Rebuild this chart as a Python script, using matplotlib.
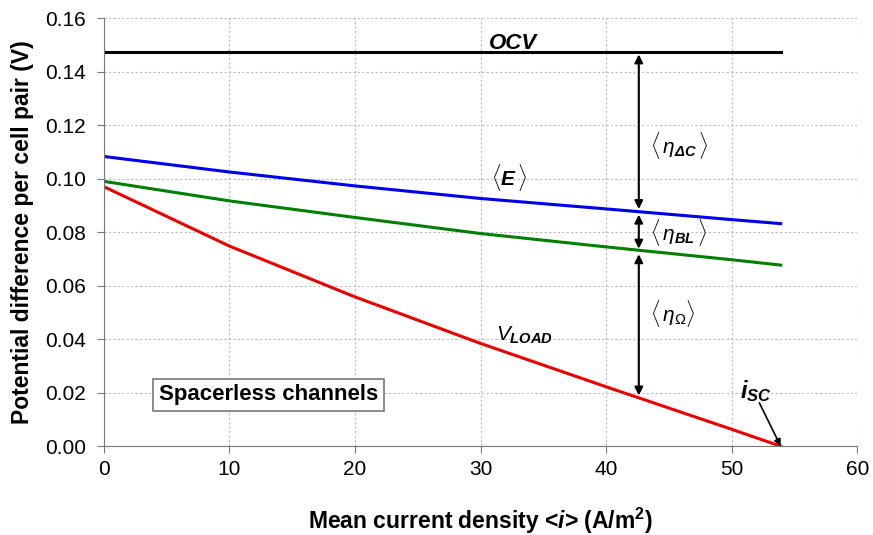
import numpy as np
import matplotlib.pyplot as plt

plt.rcParams['font.family'] = ['Liberation Sans', 'DejaVu Sans']
plt.rcParams['mathtext.fontset'] = 'custom'
plt.rcParams['mathtext.it'] = 'Liberation Sans:italic'
plt.rcParams['mathtext.bf'] = 'Liberation Sans:bold'
plt.rcParams['mathtext.bfit'] = 'Liberation Sans:italic:bold'
plt.rcParams['mathtext.rm'] = 'Liberation Sans'

# Curvas de tensión por par de celdas frente a densidad de corriente
i_mean = [0, 10, 20, 30, 40, 50, 53.9]
ocv = [0.1475, 0.1475, 0.1475, 0.1475, 0.1475, 0.1475, 0.1475]
e_mean = [0.1083, 0.1025, 0.0973, 0.0926, 0.0887, 0.0847, 0.0832]
v_bl = [0.0990, 0.0917, 0.0855, 0.0795, 0.0745, 0.0697, 0.0677]
v_load = [0.0970, 0.0748, 0.0558, 0.0384, 0.0222, 0.0063, 0.0]

# Posición de las flechas de sobretensiones
i_arrow = 42.6
ocv_a, e_a, bl_a, load_a = 0.1475, 0.0876, 0.0728, 0.0179

fig = plt.figure(figsize=(8.73, 5.35), dpi=100)
ax = fig.add_axes([0.119, 0.166, 0.863, 0.800])

ax.plot(i_mean, ocv, color='black', lw=2.2)
ax.plot(i_mean, e_mean, color='#0000ee', lw=2.2)
ax.plot(i_mean, v_bl, color='#008000', lw=2.2)
ax.plot(i_mean, v_load, color='#ee0000', lw=2.2)

arr = dict(arrowstyle='<|-|>', color='black', lw=1.5, mutation_scale=12, shrinkA=2, shrinkB=2)
ax.annotate('', xy=(i_arrow, ocv_a), xytext=(i_arrow, e_a), arrowprops=arr)
ax.annotate('', xy=(i_arrow, e_a), xytext=(i_arrow, bl_a), arrowprops=arr)
ax.annotate('', xy=(i_arrow, bl_a), xytext=(i_arrow, load_a), arrowprops=arr)

ax.text(32.6, 0.1505, 'OCV', fontsize=16, fontweight='bold', style='italic', ha='center', va='center')
ax.text(32.3, 0.1003, r'$\langle\mathbfit{E}\,\rangle$', fontsize=15, ha='center', va='center')
ax.text(43.5, 0.1125, r'$\langle\,\eta_{\mathbfit{\Delta C}}\,\rangle$', fontsize=15, ha='left', va='center')
ax.text(43.5, 0.0797, r'$\langle\,\eta_{\mathbfit{BL}}\,\rangle$', fontsize=15, ha='left', va='center')
ax.text(43.5, 0.0495, r'$\langle\,\eta_{\Omega}\rangle$', fontsize=15, ha='left', va='center')
ax.text(31.2, 0.0415, r'$\mathit{V}_{\mathbfit{LOAD}}$', fontsize=15, ha='left', va='center')
ax.text(51.9, 0.0205, r'$\mathbfit{i}_{\mathbfit{SC}}$', fontsize=17, ha='center', va='center')
ax.annotate('', xy=(53.9, 0.0), xytext=(52.2, 0.0162),
            arrowprops=dict(arrowstyle='-|>', color='black', lw=1.2, mutation_scale=10,
                            shrinkA=0, shrinkB=0))

ax.text(13.1, 0.0193, 'Spacerless channels', fontsize=16, fontweight='bold', ha='center', va='center',
        bbox=dict(boxstyle='square,pad=0.25', fc='white', ec='#777777', lw=1.2))

ax.set_xlim(0, 60)
ax.set_ylim(0, 0.16)
ax.set_xticks(np.arange(0, 61, 10))
ax.set_yticks(np.arange(0, 0.161, 0.02))
ax.yaxis.set_major_formatter(plt.FormatStrFormatter('%.2f'))
ax.tick_params(labelsize=15, direction='out', length=5, color='#777777')
ax.tick_params(axis='y', pad=8)
ax.tick_params(axis='x', pad=5)
ax.grid(True, linestyle=(0, (2, 2)), color='#bbbbbb', lw=0.8)
ax.set_axisbelow(True)
for s in ['top', 'right']:
    ax.spines[s].set_visible(False)
for s in ['left', 'bottom']:
    ax.spines[s].set_color('#777777')

ax.set_xlabel(r'Mean current density <$\mathbfit{i}$> (A/m$^\mathbf{2}$)', fontsize=16.5, fontweight='bold', labelpad=19)
ax.set_ylabel('Potential difference per cell pair (V)', fontsize=16.5, fontweight='bold', labelpad=8)

fig.savefig('out.png', dpi=100)
